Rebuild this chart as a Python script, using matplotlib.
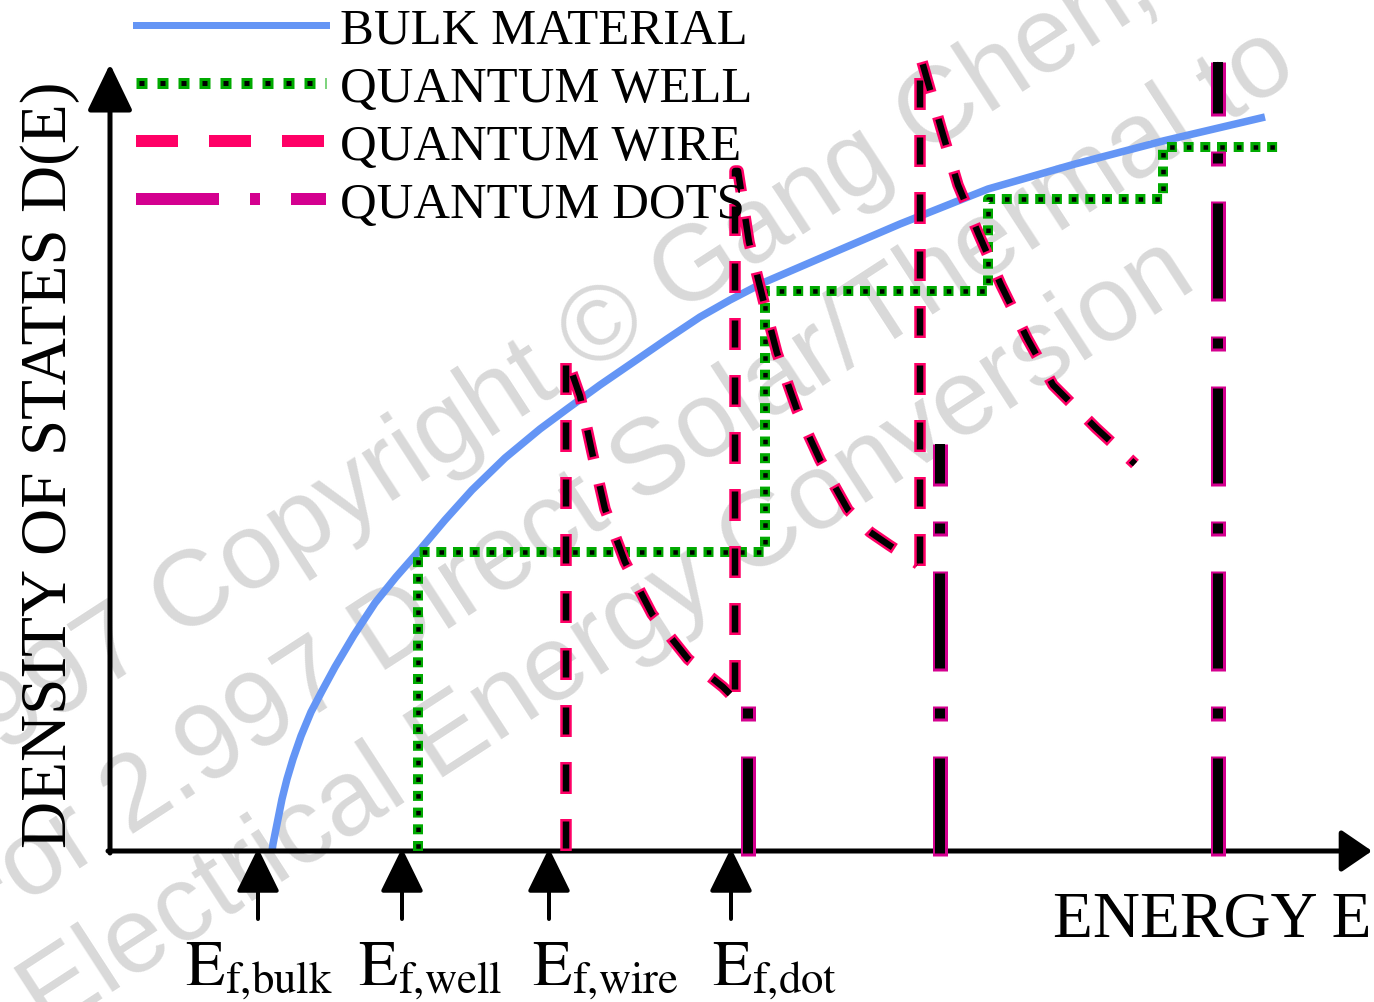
import matplotlib
matplotlib.use("Agg")
import matplotlib.pyplot as plt
from matplotlib.lines import Line2D

plt.rcParams['font.family'] = ['Liberation Serif', 'DejaVu Serif']
plt.rcParams['mathtext.fontset'] = 'stix'
plt.rcParams['lines.scale_dashes'] = False

PX = 72 / 100  # points per pixel at dpi=100

BLUE = '#6495F5'
GREEN = '#00AA00'
PINK = '#FF0066'
MAGENTA = '#D4008F'
WM_GRAY = '#d9d9d9'

# bulk: continuous sqrt-like density of states
bulk_E = [1.62, 1.63, 1.65, 1.68, 1.72, 1.77, 1.83, 1.91, 2.01, 2.12, 2.25,
          2.44, 2.65, 2.86, 3.08, 3.35, 3.62, 3.95, 4.30, 4.57, 4.90, 5.25,
          5.57, 5.90, 6.20, 6.47, 6.55, 7.20, 7.90, 8.78, 9.65, 10.53, 11.55]
bulk_D = [0.00, 0.07, 0.17, 0.32, 0.52, 0.72, 0.92, 1.15, 1.39, 1.60, 1.84,
          2.16, 2.48, 2.74, 2.99, 3.31, 3.61, 3.93, 4.22, 4.42, 4.66, 4.90,
          5.12, 5.34, 5.51, 5.65, 5.69, 5.97, 6.27, 6.62, 6.87, 7.10, 7.34]

# quantum well: staircase
well_edges = [3.08, 6.55, 8.78, 10.53]
well_levels = [2.99, 5.60, 6.52, 7.04]
well_end = 11.70

# quantum wire: one spike + 1/sqrt tail per subband
wire1_E = [4.56, 4.56, 4.70, 4.82, 4.95, 5.15, 5.42, 5.78, 6.13, 6.20]
wire1_D = [0.00, 4.95, 4.55, 3.99, 3.42, 2.89, 2.37, 1.92, 1.64, 1.57]
wire2_E = [6.25, 6.25, 6.28, 6.39, 6.53, 6.67, 6.87, 7.10, 7.38, 7.60, 7.79, 8.08]
wire2_D = [1.59, 6.80, 6.80, 6.09, 5.52, 4.98, 4.41, 3.91, 3.41, 3.19, 3.06, 2.87]
wire3_E = [8.10, 8.10, 8.11, 8.31, 8.48, 8.69, 8.91, 9.17, 9.43, 9.86, 10.25]
wire3_D = [2.85, 7.93, 7.93, 7.23, 6.66, 6.16, 5.66, 5.13, 4.66, 4.23, 3.87]

# quantum dots: discrete levels
dot_E = [6.38, 8.30, 11.08]
dot_D = [1.45, 4.07, 7.89]
dot_base = -0.05

# Fermi level markers
fermi_E = [1.48, 2.92, 4.39, 6.21]
fermi_label_E = [1.49, 3.20, 4.95, 6.65]
fermi_names = ['bulk', 'well', 'wire', 'dot']

legend_labels = ['BULK MATERIAL', 'QUANTUM WELL', 'QUANTUM WIRE', 'QUANTUM DOTS']


def outlined(ax, x, y, color, width, edge, pattern, z):
    """Black dashed line with a coloured rim around every dash."""
    period = sum(pattern)
    outer = []
    for i, d in enumerate(pattern):
        outer.append(d + 2 * edge if i % 2 == 0 else d - 2 * edge)
    ax.plot(x, y, color=color, lw=(width + 2 * edge) * PX,
            linestyle=(0, [d * PX for d in outer]),
            dash_capstyle='butt', dash_joinstyle='round', zorder=z)
    ax.plot(x, y, color='k', lw=width * PX,
            linestyle=((period - edge) * PX, [d * PX for d in pattern]),
            dash_capstyle='butt', dash_joinstyle='round', zorder=z + 0.1)


fig = plt.figure(figsize=(13.74, 10.03), dpi=100)
ax = fig.add_axes([0, 0, 1, 1])
ax.set_xlim(-1.10, 12.64)
ax.set_ylim(-1.51, 8.52)
ax.axis('off')

# watermark
wm = dict(fontsize=77, color=WM_GRAY, rotation=33, rotation_mode='anchor',
          ha='left', va='baseline', family='Liberation Sans', zorder=0)
ax.text(-1.57, 0.65, '1997 Copyright \u00a9 Gang Chen, MIT', **wm)
ax.text(-1.41, -0.88, 'For 2.997 Direct Solar/Thermal to', **wm)
ax.text(-0.63, -1.83, 'Electrical Energy Conversion', **wm)

# axes with arrow heads
ax.annotate('', xy=(0, 7.87), xytext=(0, -0.02),
            arrowprops=dict(arrowstyle='-|>,head_length=0.58,head_width=0.28',
                            mutation_scale=50, lw=5 * PX, color='k',
                            shrinkA=0, shrinkB=0), zorder=3)
ax.annotate('', xy=(12.62, 0), xytext=(-0.02, 0),
            arrowprops=dict(arrowstyle='-|>,head_length=0.38,head_width=0.26',
                            mutation_scale=50, lw=5 * PX, color='k',
                            shrinkA=0, shrinkB=0), zorder=3)

# bulk
ax.plot(bulk_E, bulk_D, color=BLUE, lw=7.5 * PX, solid_capstyle='butt',
        solid_joinstyle='round', zorder=2)

# well staircase
wx, wy = [well_edges[0]], [0.0]
for i, (e, lev) in enumerate(zip(well_edges, well_levels)):
    nxt = well_edges[i + 1] if i + 1 < len(well_edges) else well_end
    wx += [e, nxt]
    wy += [lev, lev]
outlined(ax, wx, wy, GREEN, 4.5, 2.75, [4.5, 12.2], 4)

# wire subbands
for xs, ys in [(wire1_E, wire1_D), (wire2_E, wire2_D), (wire3_E, wire3_D)]:
    outlined(ax, xs, ys, PINK, 6.5, 2.5, [27, 30], 5)

# dot levels
for e, d in zip(dot_E, dot_D):
    outlined(ax, [e, e], [dot_base, d], MAGENTA, 10, 2.5, [95, 40, 10, 40], 6)

# Fermi level arrows and labels
for e, le, name in zip(fermi_E, fermi_label_E, fermi_names):
    ax.annotate('', xy=(e, 0.03), xytext=(e, -0.68),
                arrowprops=dict(arrowstyle='-|>,head_length=0.55,head_width=0.27',
                                mutation_scale=50, lw=4 * PX, color='k',
                                shrinkA=0, shrinkB=0), zorder=3)
    ax.text(le, -1.33, r'$\mathrm{E}_{\mathrm{f{,}%s}}$' % name, fontsize=46,
            ha='center', va='baseline')

ax.text(12.62, -0.85, 'ENERGY E', fontsize=47, ha='right', va='baseline')
ax.text(-0.60, 3.87, 'DENSITY OF STATES D(E)', fontsize=47, rotation=90,
        ha='center', va='center')

# legend
h_bulk = Line2D([], [], color=BLUE, lw=7 * PX)
h_well = (Line2D([], [], color=GREEN, lw=11 * PX, linestyle=(0, [11 * PX, 10 * PX])),
          Line2D([], [], color='k', lw=5 * PX, linestyle=(18 * PX, [5 * PX, 16 * PX])))
h_wire = Line2D([], [], color=PINK, lw=12 * PX, linestyle=(0, [42 * PX, 31 * PX]))
h_dots = Line2D([], [], color=MAGENTA, lw=12 * PX,
                linestyle=(0, [83 * PX, 31 * PX, 10 * PX, 31 * PX]))
ax.legend([h_bulk, h_well, h_wire, h_dots], legend_labels, loc='upper left',
          bbox_to_anchor=(136 / 1374, 1 - 8 / 1003), bbox_transform=fig.transFigure,
          frameon=False, fontsize=36.5, handlelength=3.75, handletextpad=0.27,
          labelspacing=0.23, borderpad=0, borderaxespad=0)

fig.savefig('out.png', dpi=100)
